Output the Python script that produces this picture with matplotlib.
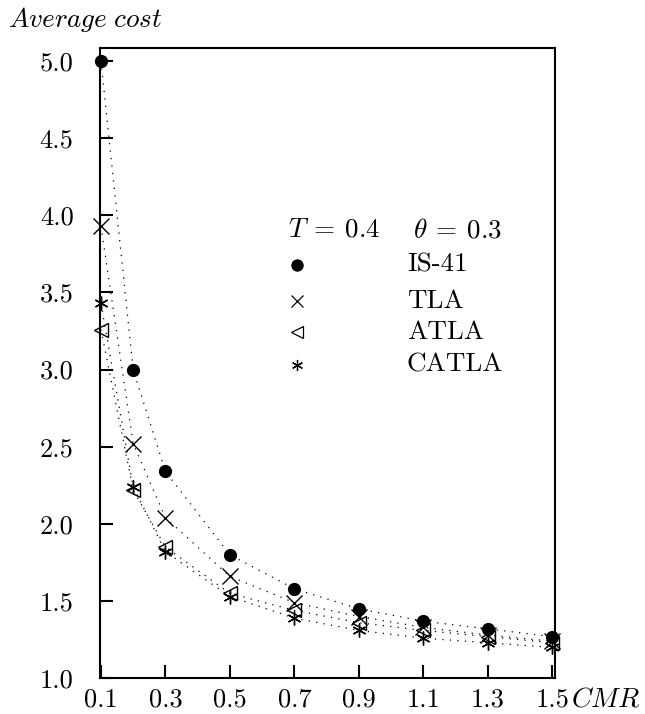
import matplotlib
matplotlib.use("Agg")
import matplotlib.pyplot as plt

plt.rcParams['font.family'] = ['cmr10', 'DejaVu Serif']
plt.rcParams['mathtext.fontset'] = 'cm'
plt.rcParams['axes.formatter.use_mathtext'] = True

cmr = [0.1, 0.2, 0.3, 0.5, 0.7, 0.9, 1.1, 1.3, 1.5]
is41 = [5.00, 3.00, 2.34, 1.80, 1.58, 1.45, 1.37, 1.32, 1.27]
tla = [3.93, 2.52, 2.04, 1.66, 1.49, 1.40, 1.33, 1.28, 1.24]
atla = [3.26, 2.22, 1.85, 1.55, 1.44, 1.36, 1.31, 1.27, 1.23]
catla = [3.43, 2.24, 1.82, 1.53, 1.39, 1.31, 1.26, 1.23, 1.20]

names = ['IS-41', 'TLA', 'ATLA', 'CATLA']
series = [is41, tla, atla, catla]
markers = ['o', 'x', '<', (6, 2, 0)]
msizes = [8.5, 11, 10, 10]
fills = ['black', 'none', 'none', 'none']

xticks = [0.1, 0.3, 0.5, 0.7, 0.9, 1.1, 1.3, 1.5]
yticks = [1.0, 1.5, 2.0, 2.5, 3.0, 3.5, 4.0, 4.5, 5.0]

fig = plt.figure(figsize=(6.45, 7.14), dpi=100)
ax = fig.add_axes([0.155, 0.050, 0.705, 0.883])

for vals, m, ms, fc in zip(series, markers, msizes, fills):
    ax.plot(cmr, vals, color='black', linestyle=(0, (1, 5)), linewidth=0.9)
    ax.plot(cmr, vals, linestyle='none', marker=m, markersize=ms,
            markerfacecolor=fc, markeredgecolor='black', markeredgewidth=1.0,
            clip_on=False, zorder=3)

ax.set_xlim(0.097, 1.507)
ax.set_ylim(1.0, 5.085)
ax.set_xticks(xticks)
ax.set_yticks(yticks)
ax.set_xticklabels(['%.1f' % v for v in xticks])
ax.set_yticklabels(['%.1f' % v for v in yticks])
ax.tick_params(direction='in', length=9.5, width=1.5, labelsize=19)
ax.tick_params(axis='x', pad=7)
ax.tick_params(axis='y', pad=19)
for s in ax.spines.values():
    s.set_linewidth(1.5)

fig.text(0.012, 0.972, r'$Average\ cost$', fontsize=19.5, ha='left', va='center')
fig.text(0.886, 0.020, r'$CMR$', fontsize=20, ha='left', va='center')

# legend block
ax.text(0.413, 0.711, r'$T\:=\:0.4$', transform=ax.transAxes, fontsize=19.5, va='center')
ax.text(0.688, 0.711, r'$\theta\:=\:0.3$', transform=ax.transAxes, fontsize=19.5, va='center')
rows = [0.656, 0.598, 0.549, 0.497]
leg_ms = [8, 9, 8, 8]
for name, m, ms, fc, yy in zip(names, markers, leg_ms, fills, rows):
    ax.plot([0.433], [yy], transform=ax.transAxes, marker=m, markersize=ms,
            markerfacecolor=fc, markeredgecolor='black', markeredgewidth=0.9,
            linestyle='none', clip_on=False)
    ax.text(0.675, yy, name, transform=ax.transAxes, fontsize=19.5, va='center')

fig.savefig('out.png', dpi=100)
